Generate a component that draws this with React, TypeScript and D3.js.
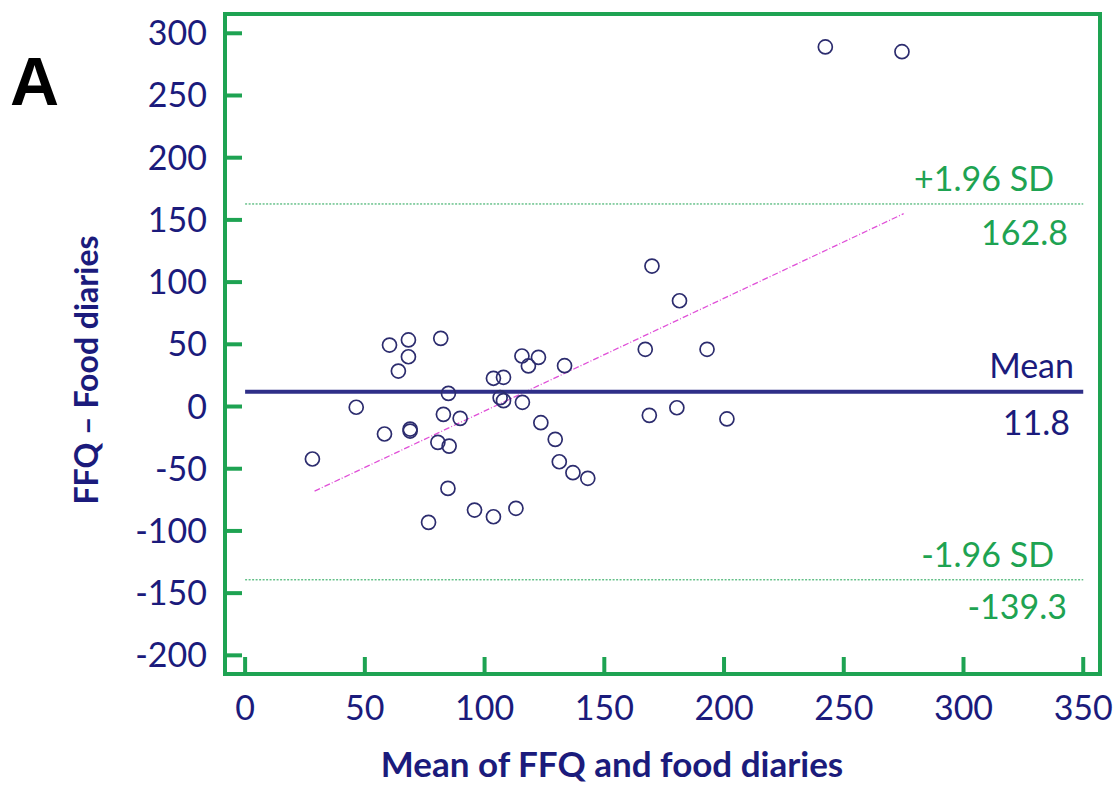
import React, { useEffect, useRef } from 'react';
import * as d3 from 'd3';

// Bland-Altman: mean of methods vs difference
const meanValues = [
  60.3, 68.2, 68.2, 81.7, 64.0, 84.9, 46.4, 82.8, 89.8, 58.2, 68.9, 68.9, 28.1, 80.5,
  85.2, 84.7, 76.6, 95.8, 103.7, 113.1, 103.7, 107.9, 115.6, 122.5, 118.3, 133.4, 106.5,
  107.9, 115.8, 123.5, 129.5, 131.2, 136.9, 143.1, 169.9, 181.4, 167.1, 192.9, 168.8,
  180.3, 201.2, 242.3, 274.3,
];
const diffValues = [
  49.4, 53.5, 40.0, 54.8, 28.5, 10.6, -0.6, -6.3, -9.5, -22.1, -18.1, -19.7, -42.2, -28.8,
  -31.8, -65.8, -93.1, -83.2, -88.6, -81.8, 22.7, 23.5, 40.6, 39.5, 32.6, 32.8, 7.1,
  4.7, 3.4, -13.0, -26.4, -44.4, -53.2, -57.7, 112.9, 85.0, 46.0, 46.0, -7.1,
  -1.0, -10.0, 289.0, 285.2,
];

const xTicks = [0, 50, 100, 150, 200, 250, 300, 350];
const yTicks = [-200, -150, -100, -50, 0, 50, 100, 150, 200, 250, 300];

const meanDiff = 11.8;
const upperLimit = 162.8;
const lowerLimit = -139.3;
const regressionEnds = [
  [29, -68],
  [275, 155],
];

const NAVY = '#1b1b7c';
const GREEN = '#1ea352';
const FONT = 'Lato, "Open Sans", sans-serif';

export default function App() {
  const svgRef = useRef<SVGSVGElement>(null);
  const width = 1120;
  const height = 788;

  useEffect(() => {
    if (!svgRef.current) return;
    const svg = d3.select(svgRef.current);
    svg.selectAll('*').remove();

    const x = d3.scaleLinear().domain([-8.4, 357]).range([225, 1100]);
    const y = d3.scaleLinear().domain([-215, 315.5]).range([674, 14]);
    const [x0, x1] = x.range();
    const [yb, yt] = y.range();

    // panel letter
    svg.append('text')
      .attr('x', 10)
      .attr('y', 105)
      .style('font-family', '"Liberation Sans", Arial, sans-serif')
      .style('font-weight', 'bold')
      .style('font-size', '68px')
      .style('fill', '#000')
      .text('A');

    // limits of agreement
    const limits = [upperLimit, lowerLimit];
    svg.selectAll('line.lim')
      .data(limits)
      .enter()
      .append('line')
      .attr('class', 'lim')
      .attr('x1', x(0))
      .attr('x2', x(350))
      .attr('y1', d => y(d))
      .attr('y2', d => y(d))
      .attr('stroke', GREEN)
      .attr('stroke-width', 1)
      .attr('stroke-dasharray', '2,1.5');

    // regression line
    const line = d3.line<number[]>().x(d => x(d[0])).y(d => y(d[1]));
    svg.append('path')
      .attr('d', line(regressionEnds) as string)
      .attr('fill', 'none')
      .attr('stroke', '#e050d8')
      .attr('stroke-width', 1.3)
      .attr('stroke-dasharray', '6,2,1,2');

    // mean line
    svg.append('line')
      .attr('x1', x(0))
      .attr('x2', x(350))
      .attr('y1', y(meanDiff))
      .attr('y2', y(meanDiff))
      .attr('stroke', '#2f2f88')
      .attr('stroke-width', 4);

    // points
    svg.append('g')
      .selectAll('circle')
      .data(meanValues.map((m, i) => [m, diffValues[i]]))
      .enter()
      .append('circle')
      .attr('cx', d => x(d[0]))
      .attr('cy', d => y(d[1]))
      .attr('r', 7)
      .attr('fill', 'none')
      .attr('stroke', '#2c2c6e')
      .attr('stroke-width', 1.7);

    // frame
    svg.append('rect')
      .attr('x', x0)
      .attr('y', yt)
      .attr('width', x1 - x0)
      .attr('height', yb - yt)
      .attr('fill', 'none')
      .attr('stroke', GREEN)
      .attr('stroke-width', 4);

    // ticks
    svg.selectAll('line.xt')
      .data(xTicks)
      .enter()
      .append('line')
      .attr('x1', d => x(d))
      .attr('x2', d => x(d))
      .attr('y1', yb)
      .attr('y2', yb - 17)
      .attr('stroke', GREEN)
      .attr('stroke-width', 4);

    svg.selectAll('line.yt')
      .data(yTicks)
      .enter()
      .append('line')
      .attr('x1', x0)
      .attr('x2', x0 + 17)
      .attr('y1', d => y(d))
      .attr('y2', d => y(d))
      .attr('stroke', GREEN)
      .attr('stroke-width', 4);

    // tick labels
    svg.selectAll('text.xl')
      .data(xTicks)
      .enter()
      .append('text')
      .attr('x', d => x(d))
      .attr('y', 720)
      .attr('text-anchor', 'middle')
      .style('font-family', FONT)
      .style('font-size', '34px')
      .style('fill', NAVY)
      .text(d => `${d}`);

    svg.selectAll('text.yl')
      .data(yTicks)
      .enter()
      .append('text')
      .attr('x', 207)
      .attr('y', d => y(d) + 12)
      .attr('text-anchor', 'end')
      .style('font-family', FONT)
      .style('font-size', '34px')
      .style('fill', NAVY)
      .text(d => `${d}`);

    // reference labels
    const refLabels = [
      { text: '+1.96 SD', v: upperLimit, dy: -13, xr: 1054, color: GREEN },
      { text: upperLimit.toFixed(1), v: upperLimit, dy: 41, xr: 1068, color: GREEN },
      { text: 'Mean', v: meanDiff, dy: -14, xr: 1074, color: NAVY },
      { text: meanDiff.toFixed(1), v: meanDiff, dy: 43, xr: 1070, color: NAVY },
      { text: '-1.96 SD', v: lowerLimit, dy: -13, xr: 1054, color: GREEN },
      { text: lowerLimit.toFixed(1), v: lowerLimit, dy: 39, xr: 1067, color: GREEN },
    ];
    svg.selectAll('text.ref')
      .data(refLabels)
      .enter()
      .append('text')
      .attr('x', d => d.xr)
      .attr('y', d => y(d.v) + d.dy)
      .attr('text-anchor', 'end')
      .style('font-family', FONT)
      .style('font-size', '34px')
      .style('fill', d => d.color)
      .text(d => d.text);

    // axis titles
    svg.append('text')
      .attr('x', 612)
      .attr('y', 777)
      .attr('text-anchor', 'middle')
      .style('font-family', FONT)
      .style('font-weight', 'bold')
      .style('font-size', '35px')
      .style('fill', NAVY)
      .text('Mean of FFQ and food diaries');

    svg.append('text')
      .attr('transform', 'translate(98,370) rotate(-90)')
      .attr('text-anchor', 'middle')
      .style('font-family', FONT)
      .style('font-weight', 'bold')
      .style('font-size', '32px')
      .style('fill', NAVY)
      .text('FFQ \u2013 Food diaries');
  }, []);

  return (
    <svg
      ref={svgRef}
      width={width}
      height={height}
      style={{ position: 'absolute', left: 0, top: 0, background: '#fff' }}
    />
  );
}
